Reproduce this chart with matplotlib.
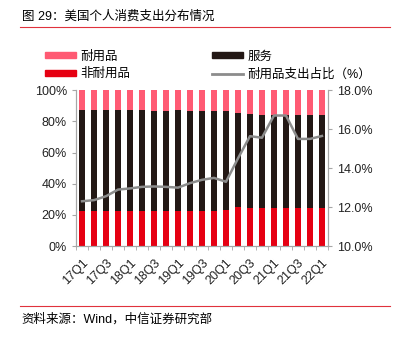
import matplotlib
matplotlib.use("Agg")
import matplotlib.pyplot as plt
from matplotlib.lines import Line2D
import numpy as np

plt.rcParams['font.family'] = ['Liberation Sans', 'Noto Sans CJK SC', 'DejaVu Sans']

quarters = ['17Q1', '17Q2', '17Q3', '17Q4', '18Q1', '18Q2', '18Q3', '18Q4',
            '19Q1', '19Q2', '19Q3', '19Q4', '20Q1', '20Q2', '20Q3', '20Q4',
            '21Q1', '21Q2', '21Q3', '21Q4', '22Q1']
# shares of total consumption, %
durable = [12.4, 12.4, 12.8, 12.8, 13.0, 13.0, 13.2, 13.2, 13.0, 13.5, 13.5,
           13.5, 13.5, 14.7, 15.5, 15.6, 15.6, 15.6, 15.6, 15.6, 15.8]
nondurable = [22.4, 22.5, 22.4, 22.4, 22.4, 22.4, 22.4, 22.4, 22.5, 22.5, 22.6,
              22.6, 23.4, 25.0, 24.6, 24.4, 24.4, 24.4, 24.6, 24.6, 24.4]
services = [100 - d - n for d, n in zip(durable, nondurable)]
# durable goods spending share, right axis
durable_line = [12.3, 12.36, 12.56, 12.9, 12.96, 13.04, 13.06, 13.04, 13.0, 13.23, 13.4,
                13.5, 13.3, 14.5, 15.64, 15.56, 16.7, 16.7, 15.5, 15.5, 15.65]

c_dur = '#FF5A73'
c_srv = '#231815'
c_non = '#E60012'
c_line = '#8C8C8C'
c_axis = '#A6A6A6'

fig = plt.figure(figsize=(3.98, 3.39), dpi=100)
ax = fig.add_axes([0.191, 0.274, 0.633, 0.460])
x = np.arange(len(quarters))
w = 0.45
ax.bar(x, nondurable, w, color=c_non)
ax.bar(x, services, w, bottom=nondurable, color=c_srv)
ax.bar(x, durable, w, bottom=np.array(nondurable) + np.array(services), color=c_dur)
ax.set_xlim(-0.5, len(quarters) - 0.5)
ax.set_ylim(0, 100)
ax.set_yticks(range(0, 101, 20))
ax.set_yticklabels(['%d%%' % v for v in range(0, 101, 20)])
ax.set_xticks(x[::2])
ax.set_xticklabels(quarters[::2], rotation=45, ha='right', rotation_mode='anchor')
ax.set_xticks(np.arange(-0.5, len(quarters)), minor=True)
ax.tick_params(axis='x', which='major', length=0, pad=8)
ax.tick_params(axis='x', which='minor', length=3, color=c_axis)
ax.tick_params(axis='y', length=3, color=c_axis)
ax.tick_params(labelsize=9, labelcolor='#222222')

ax2 = ax.twinx()
ax2.plot(x, durable_line, color=c_line, lw=1.8)
ax2.set_ylim(10, 18)
ax2.set_yticks(np.arange(10, 18.1, 2))
ax2.set_yticklabels(['%.1f%%' % v for v in np.arange(10, 18.1, 2)])
ax2.tick_params(axis='y', length=3, color=c_axis, labelsize=9, labelcolor='#222222')

for a in (ax, ax2):
    a.spines['top'].set_visible(False)
    for s in ('left', 'right', 'bottom'):
        a.spines[s].set_color(c_axis)

handles = [plt.Rectangle((0, 0), 1, 1, color=c_dur),
           plt.Rectangle((0, 0), 1, 1, color=c_non),
           plt.Rectangle((0, 0), 1, 1, color=c_srv),
           Line2D([0], [0], color=c_line, lw=2)]
labels = ['耐用品', '非耐用品', '服务', '耐用品支出占比（%）']
fig.legend(handles, labels, ncol=2, loc='upper left', bbox_to_anchor=(0.085, 0.885),
           frameon=False, fontsize=9, handlelength=2.5, handleheight=0.4,
           handletextpad=0.35, columnspacing=6.5, labelspacing=0.45)

fig.text(0.055, 0.95, '图 29：美国个人消费支出分布情况', fontsize=9, va='center', ha='left')
fig.add_artist(Line2D([0.05, 0.98], [0.92, 0.92], color='#E0323C', lw=0.8))
fig.add_artist(Line2D([0.05, 0.98], [0.097, 0.097], color='#E0323C', lw=0.8))
fig.text(0.055, 0.058, '资料来源：Wind，中信证券研究部', fontsize=9, va='center', ha='left')

fig.savefig('out.png', dpi=100)
